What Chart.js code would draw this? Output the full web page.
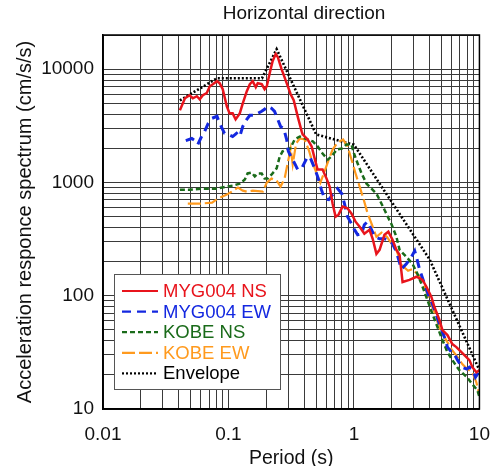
<!DOCTYPE html>
<html>
<head>
<meta charset="utf-8">
<script src="https://cdn.jsdelivr.net/npm/chart.js@4.4.1/dist/chart.umd.min.js"></script>
<style>
  html, body { margin: 0; padding: 0; background: #fff; }
  #wrap { width: 504px; height: 466px; position: relative; }
</style>
</head>
<body>
<div id="wrap"><canvas id="c" width="504" height="466"></canvas></div>
<script>
// ---------- text ----------
const chartTitle = 'Horizontal direction';
const xTitle = 'Period (s)';
const yTitle = 'Acceleration responce spectrum (cm/s/s)';
const xTickValues = [0.01, 0.1, 1, 10];
const xTickLabels = ['0.01', '0.1', '1', '10'];
const yTickValues = [10, 100, 1000, 10000];
const yTickLabels = ['10', '100', '1000', '10000'];
const seriesNames = ['MYG004 NS', 'MYG004 EW', 'KOBE NS', 'KOBE EW', 'Envelope'];

// ---------- data (period s, acceleration cm/s/s) ----------
const mygNsPeriod = [0.041,0.045,0.049,0.052,0.056,0.059,0.0625,0.067,0.071,0.075,0.081,0.085,0.090,0.097,0.102,0.108,0.114,0.123,0.130,0.140,0.148,0.156,0.165,0.171,0.184,0.194,0.202,0.213,0.225,0.238,0.247,0.265,0.291,0.313,0.331,0.356,0.383,0.39,0.428,0.46,0.486,0.513,0.562,0.605,0.64,0.676,0.714,0.754,0.811,0.889,0.957,1.03,1.11,1.21,1.33,1.41,1.51,1.60,1.75,1.88,2.03,2.18,2.31,2.44,2.77,3.15,3.52,3.78,4.14,4.38,4.80,5.07,5.56,6.08,6.55,6.92,7.59,8.32,8.79,9.45,10];
const mygNsAccel  = [4330,5530,5880,5530,5760,5420,5880,6130,7060,7360,7830,7520,6650,4700,4070,4070,3600,4070,4990,6380,7360,7830,6920,7520,7360,6650,7060,9200,11800,13600,12800,10000,7520,6000,5310,3830,2820,2650,2390,2080,1630,1300,1300,1080,918,649,498,519,611,590,529,450,406,352,382,318,234,254,345,367,312,254,229,132,138,147,138,120,97.5,79.4,61.0,49.7,44.9,37.4,35.2,33.1,29.9,27.0,23.4,21.1,22.0];

const mygEwPeriod = [0.0457,0.051,0.054,0.057,0.061,0.0646,0.069,0.074,0.081,0.085,0.093,0.100,0.108,0.116,0.123,0.130,0.140,0.148,0.162,0.171,0.184,0.194,0.205,0.22,0.233,0.247,0.26,0.275,0.291,0.30,0.32,0.337,0.356,0.383,0.42,0.445,0.486,0.513,0.55,0.583,0.63,0.676,0.74,0.80,0.84,0.889,0.957,1.0,1.07,1.15,1.21,1.28,1.38,1.46,1.60,1.75,1.94,2.03,2.18,2.39,2.62,2.87,3.05,3.15,3.34,3.65,4.0,4.22,4.5,4.80,5.26,5.56,5.98,6.3,6.7,7.24,7.95,8.32,8.79,9.3,9.65,10];
const mygEwAccel  = [2340,2440,2340,2160,2540,2820,3320,3680,3830,3320,2710,2650,2540,2710,2540,3120,3600,3910,3910,4070,4240,4420,4700,4510,4240,3600,3120,3000,2390,1880,1630,1470,1300,1330,1630,1690,1330,1130,863,718,704,780,881,796,649,498,432,390,345,352,423,450,382,331,318,318,305,287,244,172,191,220,249,220,169,127,95.6,84.5,68.9,56.2,43.1,35.2,31.8,30.5,27.0,23.4,22.5,23.4,22.5,19.1,20.3,22.5];

const kobeNsPeriod = [0.041,0.049,0.0625,0.081,0.097,0.108,0.123,0.135,0.142,0.153,0.162,0.171,0.184,0.194,0.205,0.22,0.242,0.256,0.27,0.291,0.31,0.337,0.37,0.39,0.428,0.47,0.513,0.562,0.62,0.66,0.73,0.80,0.87,0.957,1.0,1.07,1.15,1.26,1.38,1.51,1.60,1.75,1.86,2.0,2.18,2.31,2.62,2.93,3.23,3.52,3.85,4.22,4.63,5.07,5.56,6.08,6.92,7.95,8.79,9.65,10];
const kobeNsAccel  = [863,863,881,881,918,937,975,1060,1200,1220,1130,1200,1200,1080,1080,1170,1330,1690,1880,1950,1990,2390,2540,2490,2390,2300,2080,1800,1590,1690,1950,1990,2160,2160,1800,1470,1200,975,881,796,704,574,498,423,331,254,220,191,153,120,91.6,68.9,52.9,40.6,31.8,27.0,22.0,19.1,16.5,14.6,12.7];

const kobeEwPeriod = [0.0474,0.059,0.074,0.082,0.097,0.106,0.119,0.130,0.140,0.156,0.188,0.202,0.22,0.242,0.26,0.28,0.295,0.313,0.325,0.346,0.37,0.405,0.44,0.47,0.504,0.54,0.583,0.63,0.676,0.74,0.82,0.889,0.957,1.03,1.11,1.19,1.28,1.41,1.51,1.66,1.83,2.0,2.18,2.39,2.7,2.93,3.34,3.65,4.0,4.38,4.80,5.26,5.98,6.7,7.3,8.0,8.79,9.45,10];
const kobeEwAccel  = [649,649,663,718,780,828,899,846,828,846,828,995,1080,1040,918,1080,1440,1990,1440,2210,2440,2390,1880,1470,1200,995,1250,1590,1950,2250,2390,2080,1590,1200,918,718,540,406,331,360,331,287,254,187,166,172,147,120,91.6,71.8,51.9,43.1,33.8,28.7,24.9,22.5,21.1,17.2,13.2];

const envPeriod = [0.041,0.081,0.185,0.242,0.5,1.0,4.0,10];
const envAccel  = [5300,8300,8300,15000,2650,2150,210,22];

// ---------- styles ----------
const colors = ['#e8141c', '#1428e0', '#1a6b1a', '#ff9a1e', '#000000'];
const dashes = [[], [9, 6], [5, 3], [13, 4], [2, 2]];
const widths = [2.5, 3, 2.5, 2.2, 2.6];

const periods = [mygNsPeriod, mygEwPeriod, kobeNsPeriod, kobeEwPeriod, envPeriod];
const accels = [mygNsAccel, mygEwAccel, kobeNsAccel, kobeEwAccel, envAccel];

const datasets = seriesNames.map((name, i) => ({
  label: name,
  data: periods[i].map((p, k) => ({ x: p, y: accels[i][k] })),
  borderColor: colors[i],
  backgroundColor: colors[i],
  borderDash: dashes[i],
  borderWidth: widths[i],
  pointRadius: 0,
  tension: 0,
  fill: false
}));

function logTicks(min, max) {
  const t = [];
  for (let e = Math.floor(Math.log10(min)); e <= Math.ceil(Math.log10(max)); e++) {
    for (let m = 1; m < 10; m++) {
      const v = +(m * Math.pow(10, e)).toPrecision(6);
      if (v >= min * 0.9999 && v <= max * 1.0001) t.push({ value: v });
    }
  }
  return t;
}
function labelFor(v, vals, labels) {
  for (let i = 0; i < vals.length; i++) {
    if (Math.abs(v - vals[i]) / vals[i] < 1e-6) return labels[i];
  }
  return '';
}

const FONT = '"Liberation Sans", Arial, sans-serif';

const framePlugin = {
  id: 'frameAndText',
  afterDraw(chart) {
    const ctx = chart.ctx;
    const a = chart.chartArea;
    ctx.save();
    // frame
    ctx.strokeStyle = '#000';
    ctx.lineWidth = 1.5;
    ctx.setLineDash([]);
    ctx.strokeRect(a.left, a.top, a.right - a.left, a.bottom - a.top);
    // title
    ctx.font = '19px ' + FONT;
    ctx.fillStyle = '#111';
    ctx.textAlign = 'center';
    ctx.textBaseline = 'middle';
    ctx.fillText(chartTitle, 304, 14);
    // legend
    const bx = 114, by = 274, bw = 166, bh = 115;
    ctx.fillStyle = '#fff';
    ctx.fillRect(bx, by, bw, bh);
    ctx.strokeStyle = '#555';
    ctx.lineWidth = 1;
    ctx.strokeRect(bx + 0.5, by + 0.5, bw, bh);
    ctx.font = '18.5px ' + FONT;
    ctx.textAlign = 'left';
    chart.data.datasets.forEach((ds, i) => {
      const yy = 291 + i * 20.6;
      ctx.strokeStyle = ds.borderColor;
      ctx.lineWidth = Math.min(ds.borderWidth, 2.2);
      ctx.setLineDash(ds.borderDash || []);
      ctx.beginPath();
      ctx.moveTo(122, yy);
      ctx.lineTo(158, yy);
      ctx.stroke();
      ctx.setLineDash([]);
      ctx.fillStyle = ds.borderColor;
      ctx.fillText(ds.label, 163, yy + 1);
    });
    ctx.restore();
  }
};

new Chart(document.getElementById('c'), {
  type: 'line',
  data: { datasets },
  options: {
    responsive: false,
    animation: false,
    devicePixelRatio: 1,
    layout: { padding: { top: 35, right: 24, left: 0, bottom: 0 } },
    plugins: { legend: { display: false }, title: { display: false }, tooltip: { enabled: false } },
    scales: {
      x: {
        type: 'logarithmic',
        min: 0.01, max: 10,
        afterBuildTicks: (s) => { s.ticks = logTicks(0.01, 10); },
        afterFit: (s) => { s.height = 57; },
        grid: { color: '#3a3a3a', lineWidth: 1, drawTicks: false },
        border: { display: true, color: '#000', width: 1.5 },
        ticks: {
          autoSkip: false, maxRotation: 0, padding: 14,
          color: '#111', font: { family: FONT, size: 19 },
          callback: (v) => labelFor(v, xTickValues, xTickLabels)
        },
        title: { display: true, text: xTitle, color: '#111', font: { family: FONT, size: 19.5 }, padding: { top: 0, bottom: -4 } }
      },
      y: {
        type: 'logarithmic',
        min: 10, max: 20000,
        afterBuildTicks: (s) => { s.ticks = logTicks(10, 20000); },
        afterFit: (s) => { s.width = 103; },
        grid: { color: '#3a3a3a', lineWidth: 1, drawTicks: false },
        border: { display: true, color: '#000', width: 1.5 },
        ticks: {
          autoSkip: false, padding: 9,
          color: '#111', font: { family: FONT, size: 19 },
          callback: (v) => labelFor(v, yTickValues, yTickLabels)
        },
        title: { display: true, text: yTitle, color: '#111', font: { family: FONT, size: 20 }, padding: { top: 13, bottom: 0 } }
      }
    }
  },
  plugins: [framePlugin]
});
</script>
</body>
</html>
